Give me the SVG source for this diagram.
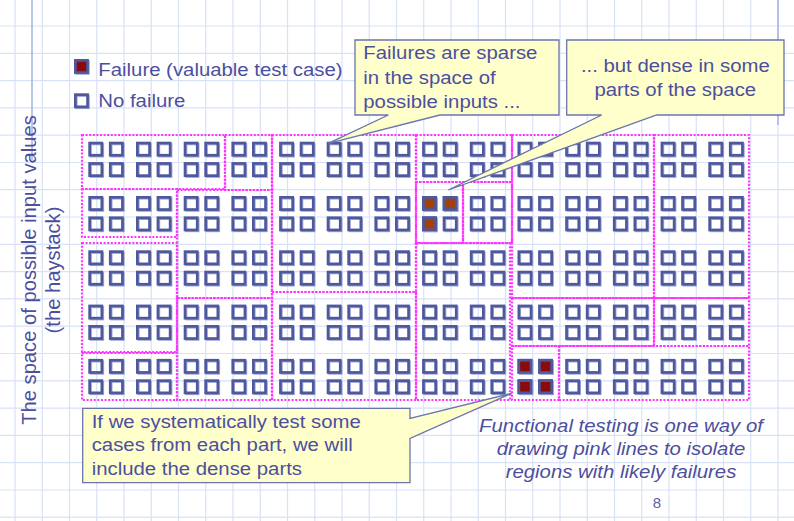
<svg xmlns="http://www.w3.org/2000/svg" width="794" height="521" viewBox="0 0 794 521">
<style>
.grid line{stroke:#d8e1f6;stroke-width:1.2}
.deco{stroke:#a3b2e2;stroke-width:1.5}
.pk rect{fill:none;stroke:#ff33ff;stroke-width:2.2;stroke-dasharray:2 1.6}
.t{font-family:"Liberation Sans",Arial,sans-serif;font-size:18.5px;fill:#4c4f9e}
.it{font-style:italic}
.call{fill:#ffffcc;stroke:#6a74ad;stroke-width:1.3;stroke-linejoin:miter}
.sm{fill:none;stroke:#4d589d;stroke-width:2.7}
.sh{fill:none;stroke:#9ea6d3;stroke-width:2.2}
</style>
<defs>
<g id="sq"><rect class="sh" x="2.5" y="2.5" width="12.2" height="12.2"/><rect class="sm" x="1.35" y="1.35" width="12.2" height="12.2"/></g>
<g id="q"><use href="#sq"/><use href="#sq" x="20.6"/><use href="#sq" y="20.4"/><use href="#sq" x="20.6" y="20.4"/></g>
<g id="fa"><rect class="sh" x="2.5" y="2.5" width="12.2" height="12.2"/><rect class="sm" x="1.35" y="1.35" width="12.2" height="12.2" style="fill:#a3410a"/></g>
<g id="fb"><rect class="sh" x="2.5" y="2.5" width="12.2" height="12.2"/><rect class="sm" x="1.35" y="1.35" width="12.2" height="12.2" style="fill:#8c0a0a"/></g>
</defs>
<rect x="0" y="0" width="794" height="521" fill="#ffffff"/>
<g class="grid">
<line x1="15" y1="0" x2="15" y2="521"/><line x1="42.25" y1="0" x2="42.25" y2="521"/><line x1="69.5" y1="0" x2="69.5" y2="521"/><line x1="96.75" y1="0" x2="96.75" y2="521"/><line x1="124" y1="0" x2="124" y2="521"/><line x1="151.25" y1="0" x2="151.25" y2="521"/><line x1="178.5" y1="0" x2="178.5" y2="521"/><line x1="205.75" y1="0" x2="205.75" y2="521"/><line x1="233" y1="0" x2="233" y2="521"/><line x1="260.25" y1="0" x2="260.25" y2="521"/><line x1="287.5" y1="0" x2="287.5" y2="521"/><line x1="314.75" y1="0" x2="314.75" y2="521"/><line x1="342" y1="0" x2="342" y2="521"/><line x1="369.25" y1="0" x2="369.25" y2="521"/><line x1="396.5" y1="0" x2="396.5" y2="521"/><line x1="423.75" y1="0" x2="423.75" y2="521"/><line x1="451" y1="0" x2="451" y2="521"/><line x1="478.25" y1="0" x2="478.25" y2="521"/><line x1="505.5" y1="0" x2="505.5" y2="521"/><line x1="532.75" y1="0" x2="532.75" y2="521"/><line x1="560" y1="0" x2="560" y2="521"/><line x1="587.25" y1="0" x2="587.25" y2="521"/><line x1="614.5" y1="0" x2="614.5" y2="521"/><line x1="641.75" y1="0" x2="641.75" y2="521"/><line x1="669" y1="0" x2="669" y2="521"/><line x1="696.25" y1="0" x2="696.25" y2="521"/><line x1="723.5" y1="0" x2="723.5" y2="521"/><line x1="750.75" y1="0" x2="750.75" y2="521"/><line x1="778" y1="0" x2="778" y2="521"/>
<line x1="0" y1="26" x2="794" y2="26"/><line x1="0" y1="53.3" x2="794" y2="53.3"/><line x1="0" y1="80.6" x2="794" y2="80.6"/><line x1="0" y1="107.9" x2="794" y2="107.9"/><line x1="0" y1="135.2" x2="794" y2="135.2"/><line x1="0" y1="162.5" x2="794" y2="162.5"/><line x1="0" y1="189.7" x2="794" y2="189.7"/><line x1="0" y1="217" x2="794" y2="217"/><line x1="0" y1="244.3" x2="794" y2="244.3"/><line x1="0" y1="271.6" x2="794" y2="271.6"/><line x1="0" y1="298.9" x2="794" y2="298.9"/><line x1="0" y1="326.2" x2="794" y2="326.2"/><line x1="0" y1="353.5" x2="794" y2="353.5"/><line x1="0" y1="380.8" x2="794" y2="380.8"/><line x1="0" y1="408.1" x2="794" y2="408.1"/><line x1="0" y1="435.4" x2="794" y2="435.4"/><line x1="0" y1="462.7" x2="794" y2="462.7"/><line x1="0" y1="490" x2="794" y2="490"/><line x1="0" y1="517.2" x2="794" y2="517.2"/>
</g>
<line class="deco" x1="32" y1="0" x2="32" y2="160"/>
<line class="deco" x1="778" y1="0" x2="778" y2="125"/>

<g id="squares">
<use href="#q" x="88.3" y="141.7"/><use href="#q" x="136" y="141.7"/><use href="#q" x="183.7" y="141.7"/><use href="#q" x="231.4" y="141.7"/><use href="#q" x="279.1" y="141.7"/><use href="#q" x="326.7" y="141.7"/><use href="#q" x="374.4" y="141.7"/><use href="#q" x="422.1" y="141.7"/><use href="#q" x="469.8" y="141.7"/><use href="#q" x="517.5" y="141.7"/><use href="#q" x="565.2" y="141.7"/><use href="#q" x="612.9" y="141.7"/><use href="#q" x="660.6" y="141.7"/><use href="#q" x="708.3" y="141.7"/>
<use href="#q" x="88.3" y="196"/><use href="#q" x="136" y="196"/><use href="#q" x="183.7" y="196"/><use href="#q" x="231.4" y="196"/><use href="#q" x="279.1" y="196"/><use href="#q" x="326.7" y="196"/><use href="#q" x="374.4" y="196"/><use href="#q" x="422.1" y="196"/><use href="#q" x="469.8" y="196"/><use href="#q" x="517.5" y="196"/><use href="#q" x="565.2" y="196"/><use href="#q" x="612.9" y="196"/><use href="#q" x="660.6" y="196"/><use href="#q" x="708.3" y="196"/>
<use href="#q" x="88.3" y="250.3"/><use href="#q" x="136" y="250.3"/><use href="#q" x="183.7" y="250.3"/><use href="#q" x="231.4" y="250.3"/><use href="#q" x="279.1" y="250.3"/><use href="#q" x="326.7" y="250.3"/><use href="#q" x="374.4" y="250.3"/><use href="#q" x="422.1" y="250.3"/><use href="#q" x="469.8" y="250.3"/><use href="#q" x="517.5" y="250.3"/><use href="#q" x="565.2" y="250.3"/><use href="#q" x="612.9" y="250.3"/><use href="#q" x="660.6" y="250.3"/><use href="#q" x="708.3" y="250.3"/>
<use href="#q" x="88.3" y="304.6"/><use href="#q" x="136" y="304.6"/><use href="#q" x="183.7" y="304.6"/><use href="#q" x="231.4" y="304.6"/><use href="#q" x="279.1" y="304.6"/><use href="#q" x="326.7" y="304.6"/><use href="#q" x="374.4" y="304.6"/><use href="#q" x="422.1" y="304.6"/><use href="#q" x="469.8" y="304.6"/><use href="#q" x="517.5" y="304.6"/><use href="#q" x="565.2" y="304.6"/><use href="#q" x="612.9" y="304.6"/><use href="#q" x="660.6" y="304.6"/><use href="#q" x="708.3" y="304.6"/>
<use href="#q" x="88.3" y="358.9"/><use href="#q" x="136" y="358.9"/><use href="#q" x="183.7" y="358.9"/><use href="#q" x="231.4" y="358.9"/><use href="#q" x="279.1" y="358.9"/><use href="#q" x="326.7" y="358.9"/><use href="#q" x="374.4" y="358.9"/><use href="#q" x="422.1" y="358.9"/><use href="#q" x="469.8" y="358.9"/><use href="#q" x="517.5" y="358.9"/><use href="#q" x="565.2" y="358.9"/><use href="#q" x="612.9" y="358.9"/><use href="#q" x="660.6" y="358.9"/><use href="#q" x="708.3" y="358.9"/>
</g>
<g id="failures">
<use href="#fa" x="422.1" y="196"/><use href="#fa" x="442.7" y="196"/><use href="#fa" x="422.1" y="216.4"/>
<use href="#fb" x="517.5" y="358.9"/><use href="#fb" x="538.1" y="358.9"/><use href="#fb" x="517.5" y="379.3"/><use href="#fb" x="538.1" y="379.3"/>
</g>
<g id="partitions" class="pk">
<rect x="82" y="135" width="143" height="54"/>
<rect x="225" y="135" width="47" height="55"/>
<rect x="82" y="189" width="95" height="48"/>
<rect x="177" y="190" width="95" height="108"/>
<rect x="82" y="243" width="95" height="109"/>
<rect x="82" y="353" width="95" height="47"/>
<rect x="177" y="298" width="95" height="102"/>
<rect x="272" y="135" width="144" height="157"/>
<rect x="272" y="292" width="144" height="108"/>
<rect x="416" y="135" width="96" height="47"/>
<rect x="416" y="182" width="47" height="61"/>
<rect x="463" y="182" width="49" height="61"/>
<rect x="416" y="243" width="94" height="157"/>
<rect x="512" y="135" width="142" height="163"/>
<rect x="654" y="135" width="95" height="163"/>
<rect x="512" y="298" width="142" height="48"/>
<rect x="654" y="298" width="95" height="48"/>
<rect x="512" y="346" width="47" height="54"/>
<rect x="559" y="346" width="190" height="54"/>
</g>
<g id="legend">
<use href="#fb" x="74" y="59"/>
<text class="t" transform="translate(98.3,76) scale(1.1,1)">Failure (valuable test case)</text>
<use href="#sq" x="74" y="93.3"/>
<text class="t" transform="translate(98.3,106.7) scale(1.1,1)">No failure</text>
</g>
<g id="axis-label">
<text class="t" style="font-size:20.2px" text-anchor="middle" transform="translate(36,270) rotate(-90)">The space of possible input values</text>
<text class="t" style="font-size:20.2px" text-anchor="middle" transform="translate(60,270) rotate(-90)">(the haystack)</text>
</g>
<g id="callout-sparse">
<path class="call" d="M355,40 H559 V115 H440 L328.3,143.3 L388.3,115 H355 Z"/>
<text class="t" transform="translate(363.3,59.3) scale(1.1,1)"><tspan x="0" y="0">Failures are sparse</tspan><tspan x="0" y="24.3">in the space of</tspan><tspan x="0" y="48.6">possible inputs ...</tspan></text>
</g>
<g id="callout-dense">
<path class="call" d="M566.7,40 H784 V115 H656.7 L448.3,190 L601.7,115 H566.7 Z"/>
<text class="t" text-anchor="middle" transform="translate(675.3,72.3) scale(1.1,1)"><tspan x="0" y="0">... but dense in some</tspan><tspan x="0" y="23.6">parts of the space</tspan></text>
</g>
<g id="callout-systematic">
<path class="call" d="M82.7,408.3 H410 V418.3 L511.7,393.3 L410,438.3 V482.7 H82.7 Z"/>
<text class="t" transform="translate(91.7,427.5) scale(1.1,1)"><tspan x="0" y="0">If we systematically test some</tspan><tspan x="0" y="24">cases from each part, we will</tspan><tspan x="0" y="48">include the dense parts</tspan></text>
</g>
<g id="note">
<text class="t it" text-anchor="middle" transform="translate(621,432.3) scale(1.1,1)"><tspan x="0" y="0">Functional testing is one way of</tspan><tspan x="0" y="23">drawing pink lines to isolate</tspan><tspan x="0" y="46">regions with likely failures</tspan></text>
</g>
<text class="t" style="font-size:15px;fill:#5a5fa0" text-anchor="middle" x="657" y="508">8</text>
</svg>
